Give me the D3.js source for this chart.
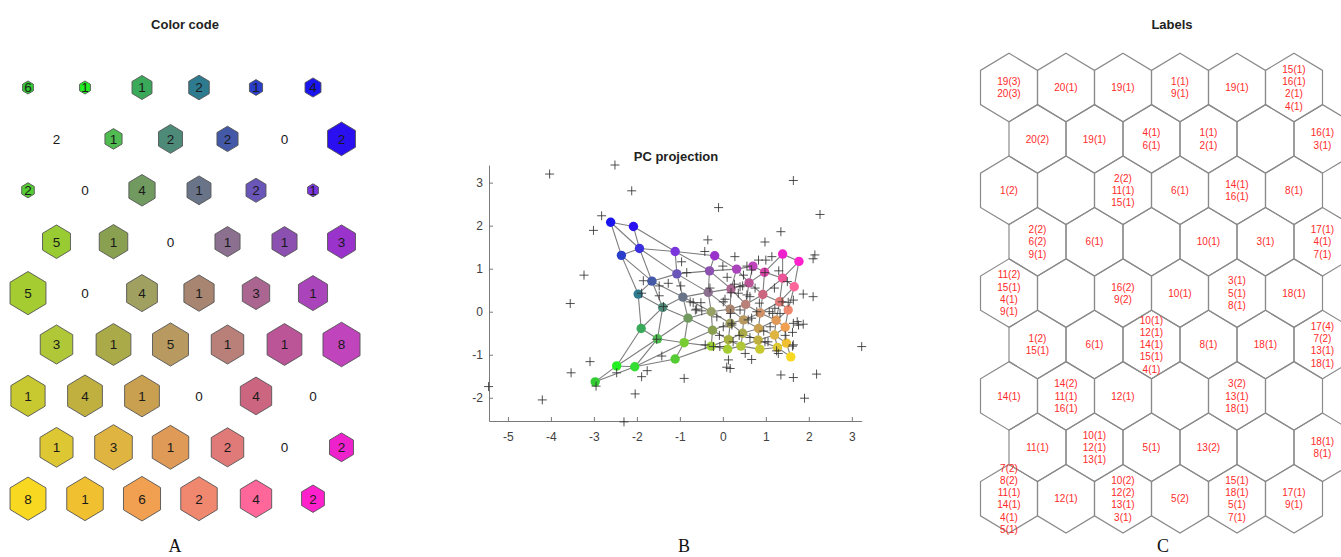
<!DOCTYPE html>
<html>
<head>
<meta charset="utf-8">
<script src="https://cdn.jsdelivr.net/npm/d3@7"></script>
<style>
  html, body { margin: 0; padding: 0; background: #fff; }
  svg { display: block; font-family: "Liberation Sans", Arial, sans-serif; }
</style>
</head>
<body>
<svg id="chart" width="1341" height="557"></svg>
<script>
// ---- data -------------------------------------------------------------
// SOM map 9 rows x 6 columns: hits per unit (panel A)
var hits = [
  [6, 1, 1, 2, 1, 4],
  [2, 1, 2, 2, 0, 2],
  [2, 0, 4, 1, 2, 1],
  [5, 1, 0, 1, 1, 3],
  [5, 0, 4, 1, 3, 1],
  [3, 1, 5, 1, 1, 8],
  [1, 4, 1, 0, 4, 0],
  [1, 3, 1, 2, 0, 2],
  [8, 1, 6, 2, 4, 2]
];

// relative size of each unit hexagon (panel A)
var unitSize = [
  [0.19, 0.19, 0.35, 0.36, 0.23, 0.28],
  [0.00, 0.30, 0.42, 0.37, 0.00, 0.49],
  [0.22, 0.00, 0.46, 0.42, 0.35, 0.19],
  [0.49, 0.50, 0.00, 0.44, 0.44, 0.49],
  [0.63, 0.00, 0.54, 0.53, 0.48, 0.51],
  [0.57, 0.61, 0.63, 0.57, 0.61, 0.65],
  [0.60, 0.61, 0.61, 0.00, 0.55, 0.00],
  [0.58, 0.66, 0.64, 0.57, 0.00, 0.42],
  [0.63, 0.64, 0.65, 0.64, 0.55, 0.40]
];

// colour code of each unit (panels A and B)
var unitColor = [
  ['#33cc33', '#22ee22', '#3aaa5a', '#2e7a8e', '#2a3ecc', '#1a14ee'],
  ['#33dd33', '#50bb50', '#4e8a78', '#4458a8', '#3a30dd', '#2a10f0'],
  ['#55cc33', '#77cc33', '#709a60', '#6a7488', '#6a55b8', '#7a35dd'],
  ['#99cc33', '#88a050', '#98a068', '#8c7090', '#8c50b0', '#9933cc'],
  ['#a5cc30', '#a8b040', '#a0a060', '#a88570', '#aa6690', '#aa44bb'],
  ['#b0c838', '#aaaa48', '#b89a60', '#b88078', '#bb5598', '#c044bb'],
  ['#c8c830', '#c0b040', '#c8a050', '#d09068', '#cc6680', '#dd44aa'],
  ['#ddc833', '#e0b440', '#e09a58', '#e07a78', '#ee5599', '#ee22cc'],
  ['#f8d820', '#f0c030', '#f0a050', '#f08870', '#ff6699', '#ff22cc']
];

// unit prototype positions in PC space (panel B)
var nodeX = [
  [-2.97, -2.47, -1.90, -1.97, -2.36, -2.61],
  [-2.05, -1.52, -1.40, -1.65, -1.94, -2.08],
  [-1.11, -0.90, -0.81, -0.93, -1.07, -1.11],
  [-0.27, -0.24, -0.27, -0.34, -0.31, -0.19],
  [ 0.11,  0.13,  0.17,  0.17,  0.19,  0.32],
  [ 0.42,  0.46,  0.48,  0.53,  0.61,  0.70],
  [ 0.86,  0.82,  0.83,  0.87,  0.93,  0.97],
  [ 1.27,  1.20,  1.24,  1.32,  1.39,  1.39],
  [ 1.58,  1.48,  1.45,  1.52,  1.66,  1.77]
];
var nodeY = [
  [-1.63, -1.26, -0.39,  0.41,  1.31,  2.08],
  [-1.28, -0.63,  0.10,  0.71,  1.47,  1.98],
  [-1.10, -0.72, -0.15,  0.34,  0.88,  1.40],
  [-0.80, -0.43,  0.00,  0.45,  0.95,  1.30],
  [-0.87, -0.65, -0.27,  0.06,  0.53,  0.99],
  [-0.80, -0.50, -0.19,  0.17,  0.67,  1.06],
  [-0.87, -0.66, -0.39, -0.03,  0.40,  0.92],
  [-0.83, -0.54, -0.20,  0.23,  0.78,  1.34],
  [-1.05, -0.73, -0.36,  0.04,  0.58,  1.17]
];

// data samples in PC space (panel B)
var samples = [
  [-4.03, 3.20], [-2.51, 3.41], [-2.12, 2.81], [-0.10, 2.42], [1.64, 3.05],
  [2.26, 2.26], [-2.82, 2.23], [-3.01, 1.89], [-3.23, 0.85], [-3.55, 0.19],
  [1.35, 1.86], [-0.35, 1.67], [0.98, 1.62], [-0.42, 1.40], [0.28, 1.28],
  [0.83, 1.20], [1.00, 1.20], [1.14, 1.28], [2.14, 1.32], [2.10, 1.23],
  [-0.96, 1.16], [0.00, 1.06], [0.56, 1.06], [0.67, 0.97], [0.48, 0.85],
  [-0.84, 0.91], [0.98, 0.91], [0.27, 0.64], [0.46, 0.60], [0.56, 0.39],
  [1.87, 0.41], [2.10, 0.35], [-1.85, 0.72], [-1.48, 0.60], [-1.27, 0.66],
  [-1.48, 0.37], [-1.89, 0.43], [-1.38, 0.12], [-1.54, -0.64], [-1.42, -1.03],
  [-3.09, -1.16], [-3.53, -1.42], [-5.45, -1.74], [-2.47, -1.42], [-1.76, -1.37],
  [-1.89, -1.51], [-2.95, -1.73], [-2.04, -1.91], [-4.20, -2.05], [-2.30, -2.56],
  [-0.90, -1.55], [1.35, -1.47], [1.64, -1.53], [2.18, -1.45], [1.90, -2.01],
  [3.23, -0.81], [-0.69, 0.21], [-0.51, 0.21], [-0.61, 0.06], [0.05, 0.29],
  [0.40, 0.58], [0.36, 0.43], [0.63, 0.35], [0.79, 0.00], [1.08, 0.00],
  [1.21, 0.08], [1.64, 0.27], [-0.14, -0.12], [0.01, -0.35], [0.21, -0.27],
  [0.59, -0.19], [0.67, -0.15], [1.10, -0.35], [1.33, -0.04], [1.64, -0.27],
  [1.76, -0.31], [1.87, -0.29], [0.24, -0.70], [-0.41, -0.77], [-0.07, -0.81],
  [0.52, -0.97], [0.67, -1.11], [0.13, -1.12], [0.09, -1.29], [0.17, -1.32],
  [0.98, -0.70], [1.29, -0.97], [1.64, -0.77], [-0.98, 0.60], [-0.76, 0.23],
  [-0.64, 0.04], [-0.49, 0.02], [0.19, 0.44], [0.01, 0.23], [0.18, -0.04],
  [0.40, 0.04], [1.16, -0.04], [1.38, 0.23], [1.52, 0.22], [1.73, -0.23],
  [1.62, -0.48], [1.62, -0.80], [1.25, -0.91], [0.63, -0.60], [0.21, -0.31],
  [-0.22, -0.81], [1.45, -0.55], [0.95, -0.45], [1.05, -0.70], [0.38, -0.55],
  [-0.08, -0.55], [0.75, 0.55], [1.20, 0.55], [1.50, 0.70], [-0.30, 0.55],
  [0.10, 0.80], [1.30, 0.95], [0.85, 0.20]
];

var xTicks = [-5, -4, -3, -2, -1, 0, 1, 2, 3];
var yTicks = [-2, -1, 0, 1, 2, 3];

// class labels hit in each unit (panel C)
var unitLabels = [
  [['19(3)', '20(3)'], ['20(1)'], ['19(1)'], ['1(1)', '9(1)'], ['19(1)'], ['15(1)', '16(1)', '2(1)', '4(1)']],
  [['20(2)'], ['19(1)'], ['4(1)', '6(1)'], ['1(1)', '2(1)'], [], ['16(1)', '3(1)']],
  [['1(2)'], [], ['2(2)', '11(1)', '15(1)'], ['6(1)'], ['14(1)', '16(1)'], ['8(1)']],
  [['2(2)', '6(2)', '9(1)'], ['6(1)'], [], ['10(1)'], ['3(1)'], ['17(1)', '4(1)', '7(1)']],
  [['11(2)', '15(1)', '4(1)', '9(1)'], [], ['16(2)', '9(2)'], ['10(1)'], ['3(1)', '5(1)', '8(1)'], ['18(1)']],
  [['1(2)', '15(1)'], ['6(1)'], ['10(1)', '12(1)', '14(1)', '15(1)', '4(1)'], ['8(1)'], ['18(1)'], ['17(4)', '7(2)', '13(1)', '18(1)']],
  [['14(1)'], ['14(2)', '11(1)', '16(1)'], ['12(1)'], [], ['3(2)', '13(1)', '18(1)'], []],
  [['11(1)'], ['10(1)', '12(1)', '13(1)'], ['5(1)'], ['13(2)'], [], ['18(1)', '8(1)']],
  [['7(2)', '8(2)', '11(1)', '14(1)', '4(1)', '5(1)'], ['12(1)'], ['10(2)', '12(2)', '13(1)', '3(1)'], ['5(2)'], ['15(1)', '18(1)', '5(1)', '7(1)'], ['17(1)', '9(1)']]
];

// ---- helpers ----------------------------------------------------------
var svg = d3.select('#chart');

// hexagon corners in grid units (1 = column step, 1 = row step)
var hexCorners = [[0, -2 / 3], [0.5, -1 / 3], [0.5, 1 / 3], [0, 2 / 3], [-0.5, 1 / 3], [-0.5, -1 / 3]];

var gridY = d3.scaleLinear().domain([0, 8]).range([87.5, 87.5 + 8 * 51.4]);

var cells = [];
hits.forEach(function (row, r) {
  row.forEach(function (h, c) {
    cells.push({ r: r, c: c, gx: c + (r % 2 ? 0.5 : 0), gy: r });
  });
});

var hexPoints = function (d, sx, sy, s) {
  return hexCorners.map(function (p) {
    return [sx(d.gx + p[0] * s), sy(d.gy + p[1] * s)].join(',');
  }).join(' ');
};

// ---- panel A : colour code -------------------------------------------
var xA = d3.scaleLinear().domain([0, 1]).range([28, 85]);
var gA = svg.append('g');

gA.selectAll('polygon')
  .data(cells.filter(function (d) { return unitSize[d.r][d.c] > 0; }))
  .enter().append('polygon')
  .attr('points', function (d) { return hexPoints(d, xA, gridY, unitSize[d.r][d.c]); })
  .attr('fill', function (d) { return unitColor[d.r][d.c]; })
  .attr('stroke', '#555')
  .attr('stroke-width', 0.9);

gA.selectAll('text')
  .data(cells)
  .enter().append('text')
  .attr('x', function (d) { return xA(d.gx); })
  .attr('y', function (d) { return gridY(d.gy); })
  .attr('dy', '0.36em')
  .attr('text-anchor', 'middle')
  .attr('font-size', 13.5)
  .attr('fill', '#1a1a1a')
  .text(function (d) { return hits[d.r][d.c]; });

// ---- panel B : PC projection -----------------------------------------
var x = d3.scaleLinear().domain([-5.44, 3.23]).range([489, 861.7]);
var y = d3.scaleLinear().domain([-2.54, 3.41]).range([421, 165]);
var gB = svg.append('g');
var plainNum = function (d) { return String(d); };

var xAxis = gB.append('g')
  .attr('transform', 'translate(0,' + y.range()[0] + ')')
  .call(d3.axisBottom(x).tickValues(xTicks).tickFormat(plainNum)
    .tickSize(-4).tickSizeOuter(0).tickPadding(11));
var yAxis = gB.append('g')
  .attr('transform', 'translate(' + x.range()[0] + ',0)')
  .call(d3.axisLeft(y).tickValues(yTicks).tickFormat(plainNum)
    .tickSize(-4).tickSizeOuter(0).tickPadding(6));

[xAxis, yAxis].forEach(function (a) {
  a.select('.domain').attr('stroke', '#7a7a7a');
  a.selectAll('.tick line').attr('stroke', '#7a7a7a');
  a.selectAll('.tick text')
    .attr('fill', '#404040')
    .attr('font-size', 12)
    .attr('font-family', '"Liberation Sans", Arial, sans-serif');
});

// neighbour links of the hexagonal lattice
var links = [];
cells.forEach(function (d) {
  if (d.c < 5) links.push([d, { r: d.r, c: d.c + 1 }]);
  if (d.r < 8) {
    var cs = d.r % 2 ? [d.c, d.c + 1] : [d.c - 1, d.c];
    cs.forEach(function (c) {
      if (c >= 0 && c <= 5) links.push([d, { r: d.r + 1, c: c }]);
    });
  }
});

gB.selectAll('line.link')
  .data(links)
  .enter().append('line')
  .attr('class', 'link')
  .attr('x1', function (l) { return x(nodeX[l[0].r][l[0].c]); })
  .attr('y1', function (l) { return y(nodeY[l[0].r][l[0].c]); })
  .attr('x2', function (l) { return x(nodeX[l[1].r][l[1].c]); })
  .attr('y2', function (l) { return y(nodeY[l[1].r][l[1].c]); })
  .attr('stroke', '#7d7d7d')
  .attr('stroke-width', 1.1);

gB.selectAll('circle')
  .data(cells)
  .enter().append('circle')
  .attr('cx', function (d) { return x(nodeX[d.r][d.c]); })
  .attr('cy', function (d) { return y(nodeY[d.r][d.c]); })
  .attr('r', 4.7)
  .attr('fill', function (d) { return unitColor[d.r][d.c]; });

gB.selectAll('path.sample')
  .data(samples)
  .enter().append('path')
  .attr('class', 'sample')
  .attr('d', function (p) {
    var px = x(p[0]), py = y(p[1]);
    return 'M' + (px - 4.5) + ',' + py + 'H' + (px + 4.5) + 'M' + px + ',' + (py - 4.5) + 'V' + (py + 4.5);
  })
  .attr('stroke', '#333')
  .attr('stroke-opacity', 0.85)
  .attr('stroke-width', 1)
  .attr('fill', 'none');

// ---- panel C : labels ------------------------------------------------
var xC = d3.scaleLinear().domain([0, 1]).range([1009, 1066]);
var gC = svg.append('g');

gC.selectAll('polygon')
  .data(cells)
  .enter().append('polygon')
  .attr('points', function (d) { return hexPoints(d, xC, gridY, 1); })
  .attr('fill', 'none')
  .attr('stroke', '#8a8a8a')
  .attr('stroke-width', 1.2);

var lineH = 12.3;
gC.selectAll('text')
  .data(cells)
  .enter().append('text')
  .attr('text-anchor', 'middle')
  .attr('font-size', 10)
  .attr('fill', '#ff2a2a')
  .each(function (d) {
    var lines = unitLabels[d.r][d.c];
    var t = d3.select(this);
    lines.forEach(function (s, i) {
      t.append('tspan')
        .attr('x', xC(d.gx))
        .attr('y', gridY(d.gy) + (i - (lines.length - 1) / 2) * lineH)
        .attr('dy', '0.36em')
        .text(s);
    });
  });

// ---- titles ----------------------------------------------------------
var titles = [
  { text: 'Color code', x: 185, y: 29 },
  { text: 'PC projection', x: 676, y: 161 },
  { text: 'Labels', x: 1172, y: 29 }
];
svg.selectAll('text.title')
  .data(titles)
  .enter().append('text')
  .attr('class', 'title')
  .attr('x', function (d) { return d.x; })
  .attr('y', function (d) { return d.y; })
  .attr('text-anchor', 'middle')
  .attr('font-size', 13)
  .attr('font-weight', 'bold')
  .attr('fill', '#222')
  .text(function (d) { return d.text; });

var panelLetters = [
  { text: 'A', x: 175 },
  { text: 'B', x: 684 },
  { text: 'C', x: 1163 }
];
svg.selectAll('text.letter')
  .data(panelLetters)
  .enter().append('text')
  .attr('class', 'letter')
  .attr('x', function (d) { return d.x; })
  .attr('y', 552)
  .attr('text-anchor', 'middle')
  .attr('font-family', '"Liberation Serif", "Times New Roman", serif')
  .attr('font-size', 18)
  .attr('fill', '#111')
  .text(function (d) { return d.text; });
</script>
